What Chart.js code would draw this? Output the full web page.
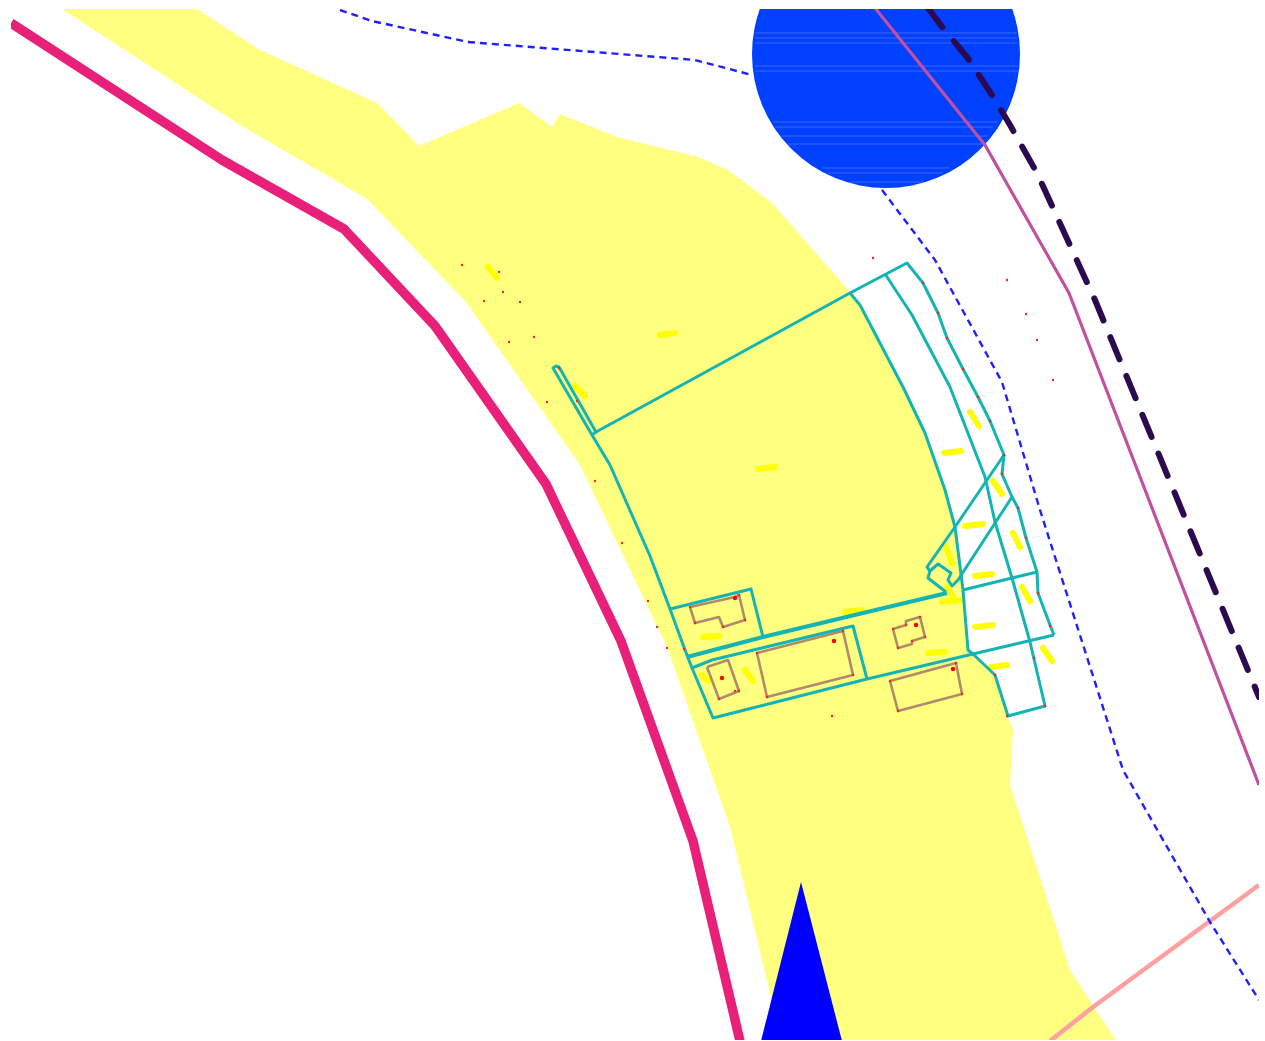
<!DOCTYPE html>
<html><head><meta charset="utf-8">
<script src="https://cdn.jsdelivr.net/npm/chart.js@4"></script>
<style>html,body{margin:0;padding:0;background:#fff}canvas{display:block}</style>
</head><body><canvas id="c" width="1265" height="1041"></canvas>
<script>
const yellowZone=[[62,9],[197,9],[260,50],[377,103],[419,146],[519,103],[552,127],[560,114],[617,137],[698,157],[728,170],[772,203],[850,292],[860,305],[903,387],[925,433],[945,490],[955,523],[963,590],[968,650],[972,654],[995,675],[1007,716],[1013,730],[1010,785],[1070,970],[1116,1041],[781,1041],[770,993],[730,827],[667,647],[580,465],[466,302],[367,199],[237,123]];
const roadPink=[[11,23],[222,160],[344,229],[435,326],[546,484],[621,641],[693,841],[740,1041]];
const pondCentre=[[886,54]];
const pondStreaks=[[755,33,1017],[755,38,1017],[755,43,1017],[755,66,1018],[755,71,1018],[773,122,997],[775,127,993],[782,136,988],[788,144,982],[822,168,950],[828,173,943],[850,182,923]];
const arrowBlue=[[801,882],[761,1041],[842,1041]];
const darkDashed=[[928,8],[943,28],[967,57],[992,95],[1010,125],[1037,173],[1095,300],[1259,697]];
const magentaLine=[[875,8],[985,145],[1069,293],[1259,785]];
const blueDashedA=[[340,10],[372,21],[468,42],[695,60],[752,75]];
const blueDashedB=[[882,190],[935,260],[1002,382],[1040,510],[1123,770],[1210,922],[1259,1000]];
const salmonLine=[[1050,1041],[1093,1007],[1259,885]];
const parcelLines=[
 [[592,435],[553,368],[556,366],[559,367],[596,432],[592,435],[610,465],[650,556],[670,609],[685,650],[692,668],[713,718],[867,679],[973,654],[1054,635]],
 [[596,432],[850,293],[907,263],[923,283],[938,313],[947,338],[963,369],[978,397],[990,421],[1004,455],[1002,474],[1012,497],[1018,508],[1026,538],[1037,572],[1038,593],[1050,625],[1054,635]],
 [[850,293],[860,305],[903,387],[925,433],[945,490],[955,527],[963,590],[968,650],[973,654],[995,675],[1008,716],[1045,706],[1030,642],[1012,578],[995,522],[985,477],[950,387],[912,315],[885,274]],
 [[670,609],[751,589],[763,637]],
 [[692,668],[712,660],[853,626],[867,679]],
 [[1004,455],[955,527],[927,567],[930,571],[938,564],[951,573],[948,580],[952,586],[958,580],[1012,497]],
 [[930,571],[928,578],[946,592]],
 [[1037,572],[1012,578],[963,590]]
];
const parcelThick=[[687,657],[763,637],[863,613],[947,593]];
const buildings=[
 [[690,607],[735,597],[739,595],[745,620],[723,627],[719,617],[695,623],[690,607]],
 [[707,667],[728,660],[739,691],[719,699],[707,667]],
 [[757,653],[843,631],[853,675],[767,697],[757,653]],
 [[893,629],[906,625],[906,621],[920,617],[925,637],[912,641],[912,644],[898,648],[893,629]],
 [[890,681],[956,663],[962,694],[898,711],[890,681]]
];
const yellowMarks=[[[488,267],[497,278]],[[660,335],[675,333]],[[575,386],[585,396]],[[758,469],[775,467]],[[845,612],[862,610]],[[703,637],[719,636]],[[745,670],[753,681]],[[702,675],[708,681]],[[928,653],[945,652]],[[942,602],[960,600]],[[975,627],[993,625]],[[975,576],[992,574]],[[1022,587],[1030,601]],[[1043,648],[1052,661]],[[991,667],[1007,665]],[[970,412],[979,426]],[[944,453],[961,451]],[[993,481],[1002,494]],[[965,526],[983,524]],[[1013,533],[1020,547]],[[946,547],[952,563]],[[947,587],[953,597]]];
const redDots=[[873,258],[923,283],[938,313],[947,338],[963,369],[978,397],[990,421],[1004,455],[1002,474],[1018,508],[1026,538],[1038,593],[1007,280],[1026,314],[1037,340],[1053,380],[462,265],[499,272],[503,292],[484,301],[520,302],[534,337],[509,342],[559,368],[577,401],[547,402],[595,481],[622,543],[648,601],[657,627],[667,648],[684,649],[832,716],[995,675],[1007,716],[1045,706],[1034,658],[1050,626],[690,607],[739,595],[745,620],[723,627],[695,623],[719,699],[739,691],[735,691],[757,653],[843,631],[853,675],[767,697],[893,629],[906,625],[920,617],[925,637],[912,641],[898,648],[890,681],[956,663],[962,694],[898,711]];
const redBlobs=[[735,598],[834,641],[916,625],[953,669],[722,678]];

const pts=a=>a.map(p=>({x:p[0],y:p[1]}));
const line=(a,color,width,extra)=>Object.assign({type:'scatter',data:pts(a),showLine:true,pointRadius:0,borderColor:color,borderWidth:width,clip:0,borderJoinStyle:'round',borderCapStyle:'butt',fill:false,tension:0},extra||{});
const dots=(a,r,color)=>({type:'scatter',data:pts(a),showLine:false,pointRadius:r,pointBorderWidth:0,pointBackgroundColor:color,clip:0});

const layers=[];
layers.push(line(yellowZone,'#ffff80',0,{fill:'shape',backgroundColor:'#ffff80'}));
layers.push(line(roadPink,'#e8207a',9.5));
layers.push(line(arrowBlue,'#0000ff',0,{fill:'shape',backgroundColor:'#0000ff'}));
layers.push(dots(pondCentre,134,'#0040ff'));
pondStreaks.forEach(s=>layers.push(line([[s[0],s[1]],[s[2],s[1]]],'rgba(120,140,255,0.5)',1)));
layers.push(line(salmonLine,'#ffa0a0',4.5));
layers.push(line(blueDashedA,'#2020ff',2.4,{borderDash:[7,5]}));
layers.push(line(blueDashedB,'#2020ff',2.4,{borderDash:[7,5]}));
layers.push(line(magentaLine,'#c050a0',3.2));
layers.push(line(darkDashed,'#2d0a50',6,{borderDash:[24,18],borderCapStyle:'round'}));
yellowMarks.forEach(m=>layers.push(line(m,'#ffff00',6,{borderCapStyle:'round'})));
buildings.forEach(b=>layers.push(line(b,'#b08a6a',2.6)));
parcelLines.forEach(l=>layers.push(line(l,'#14b4b4',3)));
layers.push(line(parcelThick,'#14b4b4',4.2));
layers.push(dots(redDots,1.2,'#ff2020'));
layers.push(dots(redBlobs,2.2,'#ff0000'));

new Chart(document.getElementById('c'),{
 type:'scatter',
 data:{datasets:layers.reverse()},
 options:{
  responsive:false,animation:false,
  layout:{autoPadding:false,padding:{left:11,right:6,top:9,bottom:1}},
  plugins:{legend:{display:false},tooltip:{enabled:false},title:{display:false}},
  scales:{
   x:{type:'linear',min:11,max:1259,display:false},
   y:{type:'linear',min:9,max:1040,reverse:true,display:false}
  }
 }
});
</script></body></html>
